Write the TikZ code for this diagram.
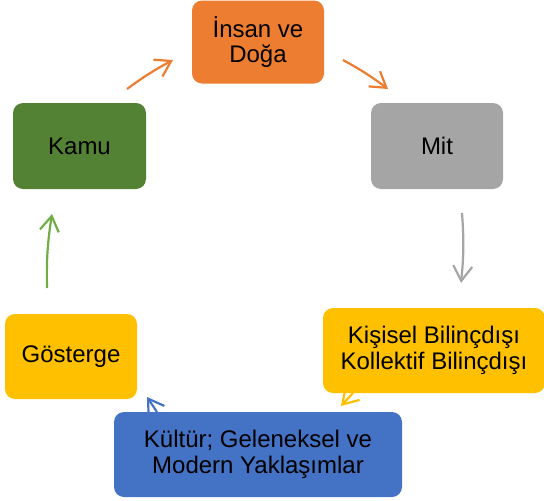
\documentclass[tikz,border=0pt]{standalone}
\usepackage{fontspec}
\setmainfont{Liberation Sans}
\usetikzlibrary{arrows.meta}
\definecolor{cOrange}{HTML}{ED7D31}
\definecolor{cGray}{HTML}{A5A5A5}
\definecolor{cGreen}{HTML}{548235}
\definecolor{cGreenL}{HTML}{70AD47}
\definecolor{cYellow}{HTML}{FFC000}
\definecolor{cBlue}{HTML}{4472C4}
\tikzset{
  box/.style={rounded corners=10pt, inner sep=0pt, align=center,
    font=\fontsize{24}{25.5}\selectfont, text=black},
  conn/.style={line width=2.2pt, -{Straight Barb[length=15pt,width=19pt,line width=2.2pt]}},
}
\begin{document}
\begin{tikzpicture}[x=1pt,y=-1pt]
\useasboundingbox (0,0) rectangle (544,501);
\node[box, fill=cOrange, minimum width=132pt, minimum height=83pt] (insan) at (258,42) {İnsan ve\\Doğa};
\node[box, fill=cGray, minimum width=132pt, minimum height=86pt] (mit) at (437,146) {Mit};
\node[box, fill=cGreen, minimum width=133pt, minimum height=86pt] (kamu) at (79.5,146) {Kamu};
\node[box, fill=cYellow, minimum width=222pt, minimum height=85pt] (kisisel) at (434,350.5) {Kişisel Bilinçdışı\\Kollektif Bilinçdışı};
\node[box, fill=cYellow, minimum width=132pt, minimum height=85pt] (gosterge) at (71,356.5) {Gösterge};
\node[box, fill=cBlue, minimum width=288pt, minimum height=85pt] (kultur) at (258,454.5) {Kültür; Geleneksel ve\\Modern Yaklaşımlar};

\coordinate (a1s) at (127,89);  \coordinate (a1e) at (173,60);
\coordinate (a2s) at (343,60);  \coordinate (a2e) at (388,89);
\coordinate (a3s) at (462,213); \coordinate (a3e) at (461,283);
\coordinate (a4s) at (353,393); \coordinate (a4e) at (341,406);
\coordinate (a5s) at (157,412); \coordinate (a5e) at (147,397);
\coordinate (a6s) at (47,288);  \coordinate (a6e) at (52,214);

\draw[conn, cOrange] (a1s) to[bend left=4] (a1e);
\draw[conn, cOrange] (a2s) to[bend left=4] (a2e);
\draw[conn, cGray] (a3s) to[bend left=5] (a3e);
\draw[conn, cYellow] (a4s) -- (a4e);
\draw[conn, cBlue] (a5s) -- (a5e);
\draw[conn, cGreenL] (a6s) to[bend left=5] (a6e);
\end{tikzpicture}
\end{document}
